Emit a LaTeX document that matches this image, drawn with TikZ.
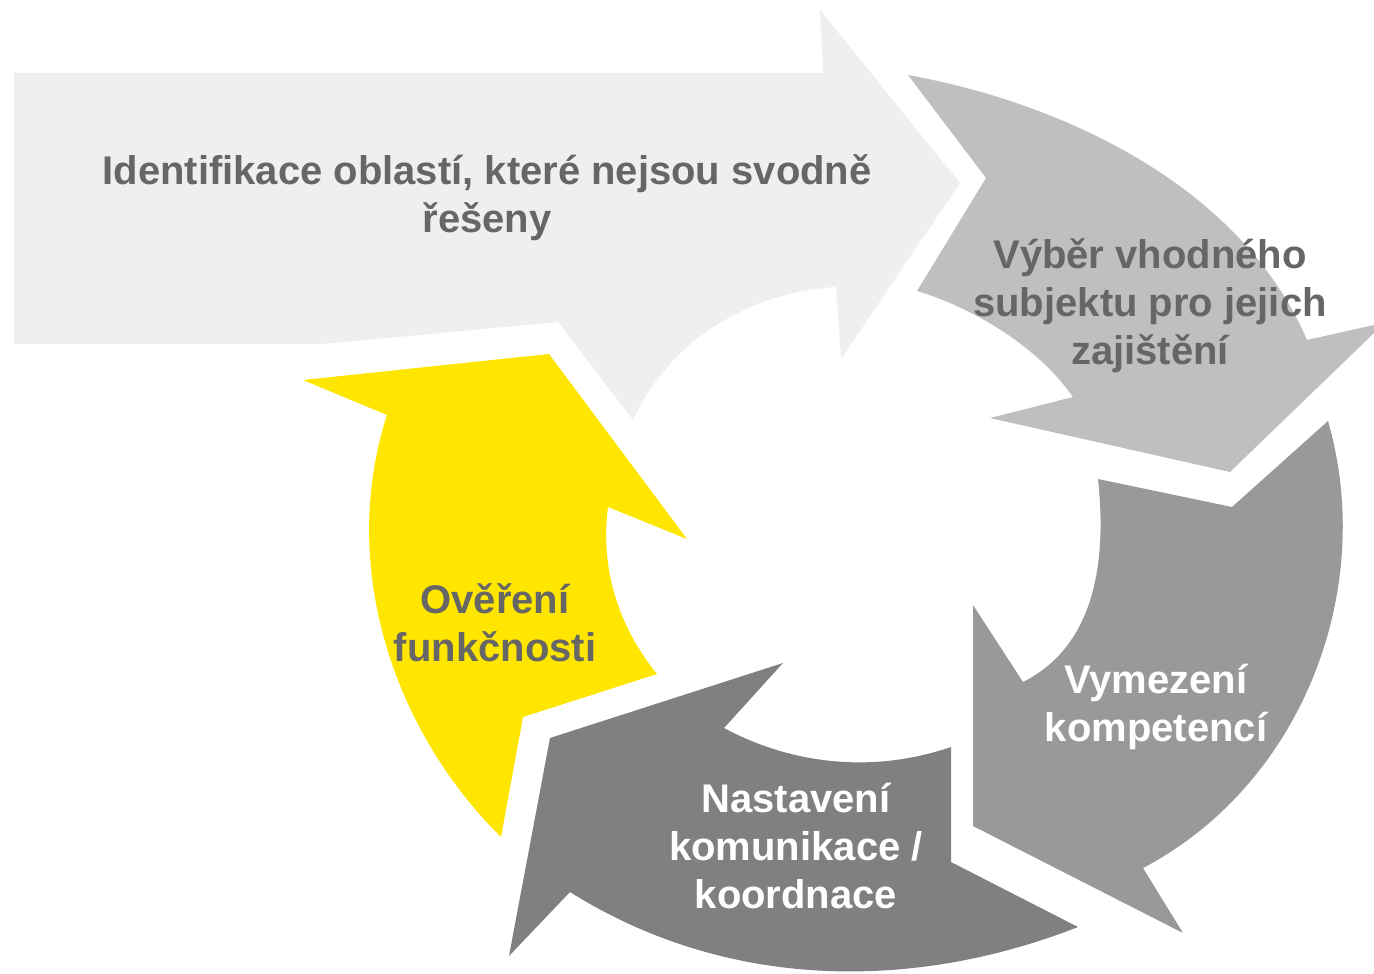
\documentclass[tikz,border=0pt]{standalone}
\usepackage{fontspec}
\setmainfont{Liberation Sans}
\usepackage{tikz}
\definecolor{stepone}{HTML}{EFEFEF}
\definecolor{steptwo}{HTML}{BFBFBF}
\definecolor{stepthree}{HTML}{999999}
\definecolor{stepfour}{HTML}{808080}
\definecolor{stepfive}{HTML}{FFE600}
\definecolor{labelgray}{HTML}{666666}
\tikzset{lbl/.style={font=\bfseries\fontsize{30}{36}\selectfont, align=center, inner sep=0.75pt, text=labelgray}}

\begin{document}
\begin{tikzpicture}[x=0.75pt,y=0.75pt,yscale=-1,xscale=1]
\useasboundingbox (0,0) rectangle (1374,974);

%Shape: Arrow top [id:identif]
\fill [stepone] (14,73) -- (823,73) -- (820,10) -- (960,183) -- (841,359) -- (836,287) .. controls (749,292) and (669,341) .. (633,420) -- (558,322) -- (323,344) -- (14,344) -- cycle ;
%Shape: Curved arrow [id:vyber]
\fill [steptwo] (908,75) .. controls (1063,103) and (1241,186) .. (1307,340) -- (1374,325) -- (1374,333) -- (1230,472) -- (990,418) -- (1073,397) .. controls (1030,336) and (955,302) .. (917,291) -- (986,178) -- cycle ;
%Shape: Curved arrow [id:vymez]
\fill [stepthree] (1098,479) -- (1232,507) -- (1328,421) .. controls (1377,591) and (1301,785) .. (1143,868) -- (1183,933) -- (973,826) -- (973,605) -- (1023,682) .. controls (1099,644) and (1106,553) .. (1098,479) -- cycle ;
%Shape: Curved arrow [id:nastav]
\fill [stepfour] (783,663) -- (724,728) .. controls (791,764) and (872,774) .. (951,747) -- (951,862) -- (1078,927) .. controls (912,992) and (726,990) .. (570,892) -- (509,956) -- (550,738) -- cycle ;
%Shape: Curved arrow [id:overeni]
\fill [stepfive] (303,380) -- (549,354) -- (687,539) -- (608,507) .. controls (600,568) and (618,626) .. (657,674) -- (523,717) -- (501,837) .. controls (391,728) and (339,563) .. (387,415) -- cycle ;

% Text Node
\node [lbl] (identif) at (487,198) {Identifikace oblastí, které nejsou svodně\\řešeny};
% Text Node
\node [lbl] (vyber) at (1150,306) {Výběr vhodného\\subjektu pro jejich\\zajištění};
% Text Node
\node [lbl, text=white] (vymez) at (1156,707) {Vymezení\\kompetencí};
% Text Node
\node [lbl, text=white] (nastav) at (796,846) {Nastavení\\komunikace /\\koordnace};
% Text Node
\node [lbl] (overeni) at (495,623) {Ověření\\funkčnosti};

\end{tikzpicture}
\end{document}
